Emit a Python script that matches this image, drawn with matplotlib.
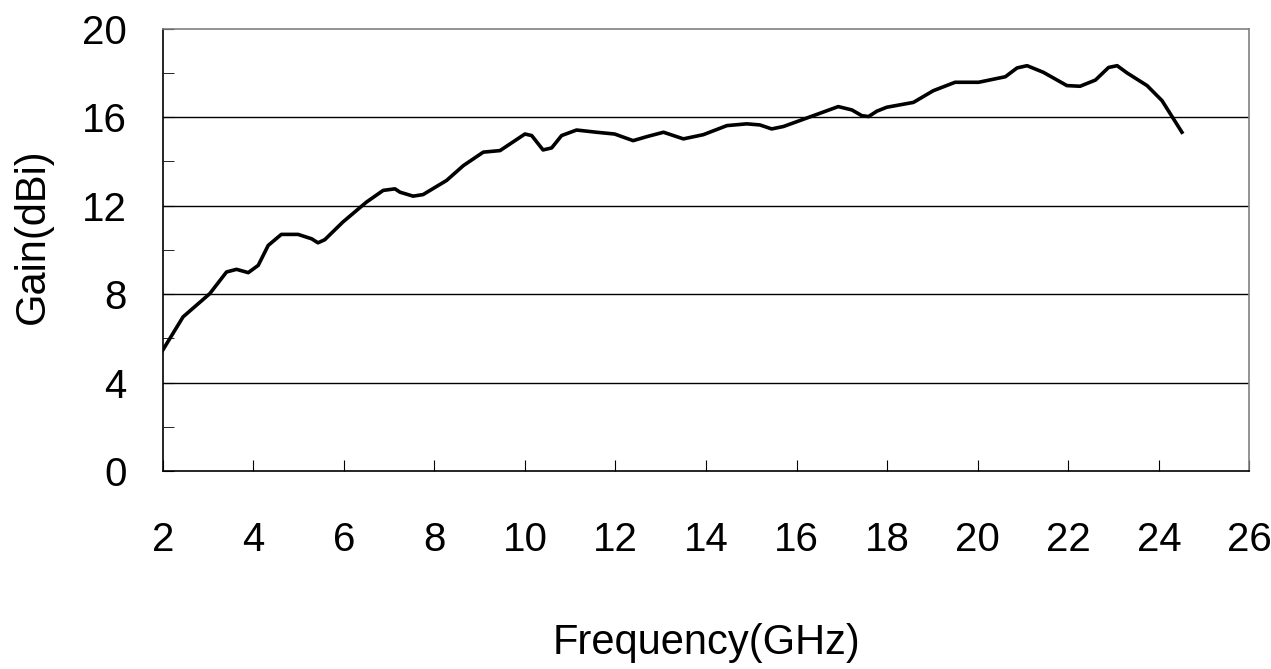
import matplotlib
matplotlib.use("Agg")
import matplotlib.pyplot as plt
from matplotlib.ticker import MultipleLocator

plt.rcParams['font.family'] = ['Liberation Sans', 'DejaVu Sans']

# Gain curve
freq_ghz = [2.0, 2.45, 3.04, 3.41, 3.63, 3.89, 4.11, 4.33, 4.62, 4.99, 5.29, 5.43,
            5.58, 5.98, 6.50, 6.87, 7.13, 7.24, 7.53, 7.75, 8.27, 8.64, 9.08, 9.45,
            9.67, 10.0, 10.15, 10.40, 10.59, 10.81, 11.14, 11.58, 11.98, 12.39, 12.69,
            13.06, 13.50, 13.94, 14.46, 14.90, 15.19, 15.45, 15.71, 16.37, 16.92, 17.22,
            17.44, 17.59, 17.77, 17.99, 18.58, 19.02, 19.50, 20.02, 20.61, 20.87, 21.09,
            21.45, 21.97, 22.26, 22.60, 22.89, 23.08, 23.30, 23.74, 24.07, 24.51]
gain_dbi = [5.46, 6.97, 8.02, 9.0, 9.12, 8.97, 9.30, 10.2, 10.70, 10.70, 10.5, 10.32,
            10.46, 11.26, 12.16, 12.69, 12.76, 12.61, 12.43, 12.5, 13.14, 13.81, 14.42, 14.49,
            14.79, 15.24, 15.17, 14.52, 14.61, 15.17, 15.42, 15.32, 15.24, 14.94, 15.12,
            15.32, 15.02, 15.21, 15.62, 15.70, 15.65, 15.47, 15.58, 16.07, 16.48, 16.33,
            16.07, 16.03, 16.27, 16.45, 16.67, 17.2, 17.58, 17.58, 17.83, 18.23, 18.33,
            18.03, 17.43, 17.40, 17.68, 18.25, 18.33, 18.0, 17.43, 16.75, 15.32]

x_ticks = list(range(2, 27, 2))
y_ticks = [0, 4, 8, 12, 16, 20]

fig = plt.figure(figsize=(12.71, 6.69), dpi=100)
ax = fig.add_axes([0.128, 0.296, 0.855, 0.661])

for v in [4, 8, 12, 16]:
    ax.axhline(v, color='black', lw=1.0, zorder=1)
ax.plot(freq_ghz, gain_dbi, color='black', lw=2.6, solid_joinstyle='round', zorder=3)

ax.set_xlim(2, 26)
ax.set_ylim(0, 20)
ax.set_xticks(x_ticks)
ax.set_yticks(y_ticks)
ax.yaxis.set_minor_locator(MultipleLocator(2))
ax.tick_params(axis='both', which='both', direction='in', labelsize=29, color='black')
ax.tick_params(axis='x', which='major', length=8, pad=36, top=False)
ax.tick_params(axis='y', which='both', length=8, pad=26, right=False)

for s in ['left', 'bottom']:
    ax.spines[s].set_color('black')
    ax.spines[s].set_linewidth(1.2)
for s in ['top', 'right']:
    ax.spines[s].set_color('#808080')
    ax.spines[s].set_linewidth(1.2)

ax.set_xlabel('Frequency(GHz)', fontsize=30, va='center')
ax.set_ylabel('Gain(dBi)', fontsize=30, va='center')
ax.xaxis.set_label_coords(0.5, -0.39)
ax.yaxis.set_label_coords(-0.119, 0.53)

fig.savefig('out.png', dpi=100)
